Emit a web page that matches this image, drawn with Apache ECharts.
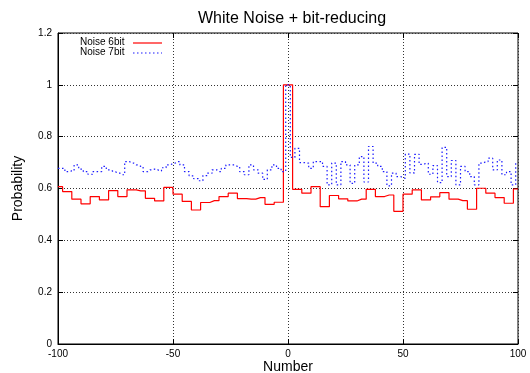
<!DOCTYPE html>
<html>
<head>
<meta charset="utf-8">
<script src="https://cdn.jsdelivr.net/npm/echarts@6/dist/echarts.min.js"></script>
<style>html,body{margin:0;padding:0;background:#fff}#c{width:530px;height:373px}</style>
</head>
<body>
<div id="c"></div>
<script>
const titleText = "White Noise + bit-reducing";
const xName = "Number";
const yName = "Probability";
const seriesNames = ["Noise 6bit", "Noise 7bit"];

const x6 = [-100,-96,-92,-88,-84,-80,-76,-72,-68,-64,-60,-56,-52,-48,-44,-40,-36,-32,-28,-24,-20,-16,-12,-8,-4,0,4,8,12,16,20,24,28,32,36,40,44,48,52,56,60,64,68,72,76,80,84,88,92,96,100];
const y6 = [0.607,0.588,0.559,0.541,0.569,0.556,0.592,0.569,0.595,0.591,0.562,0.552,0.604,0.578,0.550,0.517,0.546,0.553,0.569,0.582,0.561,0.559,0.565,0.539,0.547,1.0,0.597,0.582,0.607,0.530,0.573,0.560,0.552,0.559,0.597,0.569,0.575,0.512,0.578,0.595,0.556,0.568,0.584,0.559,0.553,0.520,0.601,0.582,0.565,0.543,0.598];

const x7 = [-100,-98,-96,-94,-92,-90,-88,-86,-84,-82,-80,-78,-76,-74,-72,-70,-68,-66,-64,-62,-60,-58,-56,-54,-52,-50,-48,-46,-44,-42,-40,-38,-36,-34,-32,-30,-28,-26,-24,-22,-20,-18,-16,-14,-12,-10,-8,-6,-4,-2,0,2,4,6,8,10,12,14,16,18,20,22,24,26,28,30,32,34,36,38,40,42,44,46,48,50,52,54,56,58,60,62,64,66,68,70,72,74,76,78,80,82,84,86,88,90,92,94,96,98,100];
const y7 = [0.678,0.678,0.665,0.668,0.691,0.675,0.665,0.655,0.665,0.665,0.685,0.672,0.665,0.659,0.653,0.704,0.698,0.691,0.685,0.665,0.672,0.675,0.668,0.680,0.691,0.698,0.704,0.691,0.665,0.649,0.638,0.630,0.650,0.659,0.672,0.665,0.678,0.691,0.691,0.685,0.665,0.653,0.691,0.672,0.659,0.635,0.672,0.691,0.678,0.665,1.0,0.720,0.755,0.700,0.698,0.678,0.704,0.704,0.685,0.614,0.698,0.614,0.704,0.691,0.620,0.691,0.723,0.625,0.762,0.698,0.685,0.665,0.610,0.659,0.646,0.640,0.733,0.660,0.732,0.693,0.697,0.655,0.688,0.623,0.759,0.646,0.708,0.614,0.685,0.665,0.646,0.614,0.698,0.704,0.717,0.672,0.710,0.653,0.665,0.614,0.698];

const xTickMin = -100, xTickMax = 100, xTickStep = 50;
const yTickMin = 0, yTickMax = 1.2, yTickStep = 0.2;

const FONT = "Liberation Sans, Arial, Helvetica, sans-serif";
const RED = '#ff0000', BLUE = '#1a1aff';
const pair = (xs, ys) => xs.map((x, i) => [x, ys[i]]);
const gridLine = {show: true, lineStyle: {color: '#333', type: [1, 2], width: 1}};
const tick = {show: true, inside: true, length: 5, lineStyle: {color: '#000'}};

const chart = echarts.init(document.getElementById('c'), null, {renderer: 'canvas'});
chart.setOption({
  animation: false,
  backgroundColor: '#fff',
  title: {
    text: titleText, left: 193, top: 6,
    textStyle: {fontFamily: FONT, fontSize: 16, fontWeight: 'normal', color: '#000'}
  },
  grid: {left: 58, right: 12, top: 33, bottom: 29, containLabel: false, outerBoundsMode: 'none',
         show: true, borderColor: '#000', borderWidth: 1, backgroundColor: 'transparent'},
  xAxis: [{
    type: 'value', min: xTickMin, max: xTickMax, interval: xTickStep,
    name: xName, nameLocation: 'middle', nameGap: 16, nameMoveOverlap: false,
    nameTextStyle: {fontFamily: FONT, fontSize: 14, color: '#000', verticalAlign: 'top'},
    axisLine: {show: true, onZero: false, lineStyle: {color: '#000', width: 1}},
    axisTick: tick,
    axisLabel: {fontFamily: FONT, fontSize: 10, color: '#000', margin: 5},
    splitLine: gridLine
  }, {
    type: 'value', min: xTickMin, max: xTickMax, interval: xTickStep, position: 'top',
    axisLine: {show: false, onZero: false}, axisTick: tick,
    axisLabel: {show: false}, splitLine: {show: false}
  }],
  yAxis: [{
    type: 'value', min: yTickMin, max: yTickMax, interval: yTickStep,
    name: yName, nameLocation: 'middle', nameGap: 33, nameMoveOverlap: false,
    nameTextStyle: {fontFamily: FONT, fontSize: 14, color: '#000'},
    axisLine: {show: true, onZero: false, lineStyle: {color: '#000', width: 1}},
    axisTick: tick,
    axisLabel: {fontFamily: FONT, fontSize: 10, color: '#000', margin: 6},
    splitLine: gridLine
  }, {
    type: 'value', min: yTickMin, max: yTickMax, interval: yTickStep, position: 'right',
    axisLine: {show: false, onZero: false}, axisTick: tick,
    axisLabel: {show: false}, splitLine: {show: false}
  }],
  graphic: [
    {type: 'text', left: 80, top: 37, style: {text: seriesNames[0], font: '10px ' + FONT, fill: '#000'}},
    {type: 'line', shape: {x1: 133, y1: 43, x2: 162, y2: 43}, style: {stroke: RED, lineWidth: 1.2}},
    {type: 'text', left: 80, top: 47, style: {text: seriesNames[1], font: '10px ' + FONT, fill: '#000'}},
    {type: 'line', shape: {x1: 133, y1: 53, x2: 162, y2: 53}, style: {stroke: BLUE, lineWidth: 1.2, lineDash: [1.5, 2.5]}}
  ],
  series: [{
    name: seriesNames[0], type: 'line', step: 'middle', symbol: 'none',
    data: pair(x6, y6), lineStyle: {color: RED, width: 1.2}, itemStyle: {color: RED}
  }, {
    name: seriesNames[1], type: 'line', step: 'middle', symbol: 'none',
    data: pair(x7, y7), lineStyle: {color: BLUE, width: 1.2, type: [1.5, 2.5]}, itemStyle: {color: BLUE}
  }]
});
</script>
</body>
</html>
